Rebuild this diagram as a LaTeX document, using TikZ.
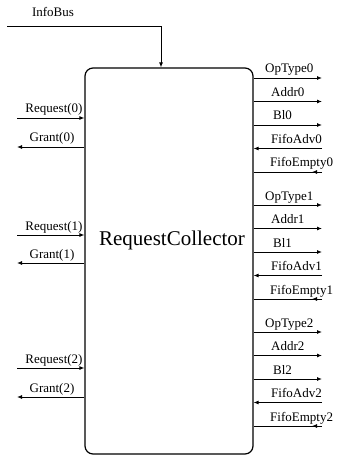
\documentclass[tikz,border=0pt]{standalone}
\usepackage{fontspec}
\setmainfont{Liberation Serif}
\usetikzlibrary{arrows.meta,decorations.markings}
\begin{document}
\begin{tikzpicture}[x=1pt,y=-1pt,
  lbl/.style={font=\fontsize{13}{14}\selectfont, inner sep=0pt},
  wire/.style={line width=0.9pt},
  tipend/.style={-{Latex[length=5pt,width=4pt]}},
  midtip/.style={postaction={decorate},
    decoration={markings, mark=at position 10pt with {\arrow{Latex[length=5pt,width=4pt]}}}}]
\useasboundingbox (0,0) rectangle (338,457);
\node[draw, line width=1.2pt, rounded corners=8pt, minimum width=168pt,
      minimum height=386pt, inner sep=0pt] (rc) at (169,261) {};
\node[font=\fontsize{21}{24}\selectfont, inner sep=0pt] (title) at (172,240) {RequestCollector};
% InfoBus
\node[lbl] (ibl) at (53,12) {InfoBus};
\coordinate (ib) at (7,26);
\coordinate (ibc) at (161,26);
\draw[wire,tipend] (ib) -- (ibc) -- (ibc |- rc.north);
% left side
\foreach \i/\ry/\gy in {0/118/147, 1/235/263, 2/368/397}{
  \coordinate (req\i) at (17,\ry);
  \draw[wire,tipend] (req\i) -- (req\i -| rc.west);
  \node[lbl, anchor=base] (reql\i) at (54,\ry-5) {Request(\i)};
  \coordinate (gnt\i) at (17,\gy);
  \draw[wire,tipend] (gnt\i -| rc.west) -- (gnt\i);
  \node[lbl, anchor=base] (gntl\i) at (52,\gy-5) {Grant(\i)};
}
% right side
\foreach \g in {0,1,2}{
  \foreach \k/\nm/\lx in {0/OpType/265, 1/Addr/271, 2/Bl/273, 3/FifoAdv/271, 4/FifoEmpty/270}{
    \pgfmathsetmacro\yy{78+127*\g+23.5*\k}
    \coordinate (s\g\k) at (322,\yy);
    \node[lbl, anchor=base west] (t\g\k) at (\lx,\yy-5) {\nm\g};
  }
  \foreach \k in {0,1,2}{
    \draw[wire,tipend] (s\g\k -| rc.east) -- (s\g\k);
  }
  \draw[wire,tipend] (s\g3) -- (s\g3 -| rc.east);
  \draw[wire,midtip] (s\g4) -- (s\g4 -| rc.east);
}
\end{tikzpicture}
\end{document}
